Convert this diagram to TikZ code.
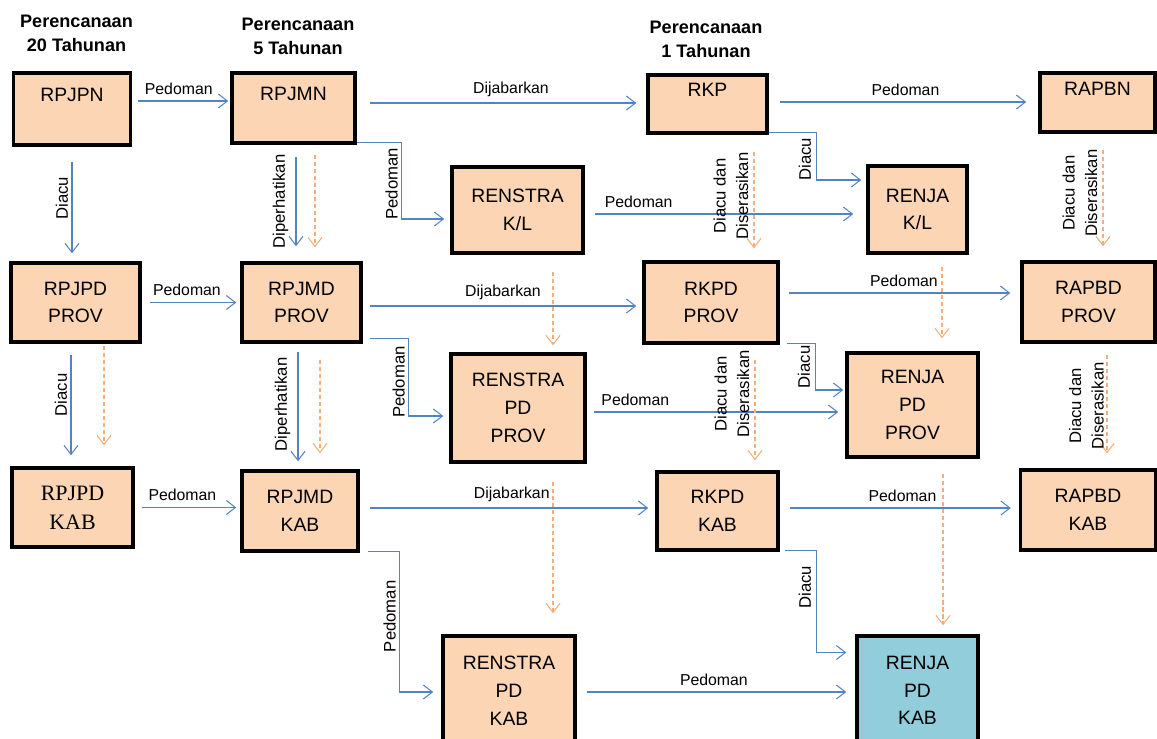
\documentclass[tikz,border=0pt]{standalone}
\usepackage{fontspec}
\setmainfont{Liberation Sans}
\newfontfamily\kabserif{Liberation Serif}
\usetikzlibrary{arrows.meta,calc,positioning}
\definecolor{peach}{RGB}{252,213,180}
\definecolor{skyfill}{RGB}{146,205,220}
\definecolor{linkblue}{RGB}{84,132,192}
\definecolor{syncorange}{RGB}{248,172,120}

\begin{document}
\begin{tikzpicture}[>={Straight Barb[length=1.8mm,width=2.8mm]}]
      \tikzstyle{doc} = [rectangle, draw, line width=2pt, fill=peach, align=center, inner sep=0pt, font=\fontsize{11}{15.8}\selectfont]
      \tikzstyle{head} = [align=center, font=\bfseries\fontsize{10.3}{13.6}\selectfont]
      \tikzstyle{link} = [->, draw=linkblue, line width=0.6pt]
      \tikzstyle{sync} = [->, draw=syncorange, dashed, dash pattern=on 2.4pt off 1.6pt, line width=0.6pt]
      \tikzstyle{lbl} = [text=black, font=\fontsize{9}{12.5}\selectfont, inner sep=2pt, align=center]
      \tikzstyle{vlbl} = [lbl, rotate=90, anchor=south, font=\fontsize{9.5}{12.8}\selectfont]

      \useasboundingbox (0,0) rectangle (23.14,-14.78);

      \node[head] (plan20) at (1.53,-0.67) {Perencanaan\\20 Tahunan};
      \node[head] (plan5) at (5.96,-0.72) {Perencanaan\\5 Tahunan};
      \node[head] (plan1) at (14.12,-0.78) {Perencanaan\\1 Tahunan};

      \node[doc, minimum width=2.34cm, minimum height=1.44cm] (rpjpn) at (1.44,-2.18) {RPJPN\\\mbox{}};
      \node[doc, minimum width=2.46cm, minimum height=1.40cm] (rpjmn) at (5.87,-2.16) {RPJMN\\\mbox{}};
      \node[doc, minimum width=2.38cm, minimum height=1.16cm] (rkp) at (14.15,-2.08) {RKP\\\mbox{}};
      \node[doc, minimum width=2.30cm, minimum height=1.18cm] (rapbn) at (21.95,-2.05) {RAPBN\\\mbox{}};
      \node[doc, minimum width=2.62cm, minimum height=1.72cm] (renstrakl) at (10.35,-4.20) {RENSTRA\\K/L};
      \node[doc, minimum width=1.98cm, minimum height=1.74cm] (renjakl) at (18.35,-4.19) {RENJA\\K/L};
      \node[doc, minimum width=2.58cm, minimum height=1.58cm] (rpjpdprov) at (1.51,-6.05) {RPJPD\\PROV};
      \node[doc, minimum width=2.38cm, minimum height=1.58cm] (rpjmdprov) at (6.03,-6.05) {RPJMD\\PROV};
      \node[doc, minimum width=2.68cm, minimum height=1.62cm] (rkpdprov) at (14.22,-6.05) {RKPD\\PROV};
      \node[doc, minimum width=2.66cm, minimum height=1.60cm] (rapbdprov) at (21.77,-6.04) {RAPBD\\PROV};
      \node[doc, minimum width=2.68cm, minimum height=2.16cm] (renstrapdprov) at (10.36,-8.16) {RENSTRA\\PD\\PROV};
      \node[doc, minimum width=2.62cm, minimum height=2.08cm] (renjapdprov) at (18.25,-8.10) {RENJA\\PD\\PROV};
      \node[doc, minimum width=2.42cm, minimum height=1.58cm, font=\kabserif\fontsize{12.5}{16.4}\selectfont] (rpjpdkab) at (1.45,-10.15) {RPJPD\\KAB};
      \node[doc, minimum width=2.32cm, minimum height=1.60cm] (rpjmdkab) at (6.00,-10.22) {RPJMD\\KAB};
      \node[doc, minimum width=2.42cm, minimum height=1.56cm] (rkpdkab) at (14.35,-10.22) {RKPD\\KAB};
      \node[doc, minimum width=2.70cm, minimum height=1.60cm] (rapbdkab) at (21.76,-10.20) {RAPBD\\KAB};
      \node[doc, minimum width=2.64cm, minimum height=2.18cm] (renstrapdkab) at (10.18,-13.81) {RENSTRA\\PD\\KAB};
      \node[doc, fill=skyfill, minimum width=2.42cm, minimum height=2.18cm] (renjapdkab) at (18.35,-13.81) {RENJA\\PD\\KAB};

      \draw[link] ($(rpjpn.east)+(0.12,0.16)$) -- ($(rpjpn.east -| rpjmn.west)+(-0.04,0.16)$) node[pos=0.45, above=1.5pt, lbl] {Pedoman};
      \draw[link] ($(rpjmn.east)+(0.26,0.10)$) -- ($(rpjmn.east -| rkp.west)+(-0.20,0.10)$) node[pos=0.53, above=1.5pt, lbl] {Dijabarkan};
      \draw[link] ($(rkp.east)+(0.22,0.04)$) -- ($(rkp.east -| rapbn.west)+(-0.24,0.04)$) node[pos=0.51, above=1.5pt, lbl] {Pedoman};
      \draw[link] ($(renstrakl.east)+(0.20,-0.08)$) -- ($(renstrakl.east -| renjakl.west)+(-0.26,-0.08)$) node[pos=0.17, above=1.5pt, lbl] {Pedoman};
      \draw[link] ($(rpjpdprov.east)+(0.16,0)$) -- ($(rpjpdprov.east -| rpjmdprov.west)+(-0.08,0)$) node[pos=0.43, above=1.5pt, lbl] {Pedoman};
      \draw[link] ($(rpjmdprov.east)+(0.14,-0.07)$) -- ($(rpjmdprov.east -| rkpdprov.west)+(-0.12,-0.07)$) node[pos=0.5, above=1.5pt, lbl] {Dijabarkan};
      \draw[link] ($(rkpdprov.east)+(0.18,0.19)$) -- ($(rkpdprov.east -| rapbdprov.west)+(-0.20,0.19)$) node[pos=0.52, above=1.5pt, lbl] {Pedoman};
      \draw[link] ($(renstrapdprov.east)+(0.14,-0.08)$) -- ($(renstrapdprov.east -| renjapdprov.west)+(-0.14,-0.08)$) node[pos=0.17, above=1.5pt, lbl] {Pedoman};
      \draw[link] ($(rpjpdkab.east)+(0.14,0)$) -- ($(rpjpdkab.east -| rpjmdkab.west)+(-0.08,0)$) node[pos=0.43, above=1.5pt, lbl] {Pedoman};
      \draw[link] ($(rpjmdkab.east)+(0.20,0.06)$) -- ($(rpjmdkab.east -| rkpdkab.west)+(-0.14,0.06)$) node[pos=0.51, above=1.5pt, lbl] {Dijabarkan};
      \draw[link] ($(rkpdkab.east)+(0.20,0.06)$) -- ($(rkpdkab.east -| rapbdkab.west)+(-0.16,0.06)$) node[pos=0.51, above=1.5pt, lbl] {Pedoman};
      \draw[link] ($(renstrapdkab.east)+(0.20,-0.03)$) -- ($(renstrapdkab.east -| renjapdkab.west)+(-0.18,-0.03)$) node[pos=0.49, above=1.5pt, lbl] {Pedoman};

      \draw[link] ($(rpjmn.south east)+(0,0.04)$) -- ++(0.9,0) |- ($(renstrakl.west)+(-0.12,-0.18)$) node[pos=0.27, vlbl] {Pedoman};
      \draw[link] ($(rkp.south east)+(0,0.04)$) -- ++(0.96,0) |- ($(renjakl.west)+(-0.10,0.59)$) node[pos=0.28, vlbl, inner sep=3pt] {Diacu};
      \draw[link] ($(rpjmdprov.south east)+(0.14,0.10)$) -- ++(0.78,0) |- ($(renstrapdprov.west)+(-0.12,-0.16)$) node[pos=0.28, vlbl] {Pedoman};
      \draw[link] ($(rkpdprov.south east)+(0.14,0.02)$) -- ++(0.58,0) |- ($(renjapdprov.west)+(-0.04,0.30)$) node[pos=0.25, vlbl, inner sep=3pt] {Diacu};
      \draw[link] ($(rpjmdkab.south east)+(0.16,0.02)$) -- ++(0.64,0) |- ($(renstrapdkab.west)+(-0.16,-0.03)$) node[pos=0.23, vlbl] {Pedoman};
      \draw[link] ($(rkpdkab.south east)+(0.10,0.02)$) -- ++(0.64,0) |- ($(renjapdkab.west)+(-0.18,0.76)$) node[pos=0.18, vlbl, inner sep=3pt] {Diacu};

      \draw[link] ($(rpjpn.south)+(0,-0.30)$) -- ($(rpjpn.south |- rpjpdprov.north)+(0,0.16)$) node[pos=0.4, vlbl] {Diacu};
      \draw[link] ($(rpjmn.south)+(0.05,-0.24)$) -- ($(rpjmn.south |- rpjmdprov.north)+(0.05,0.30)$) node[midway, vlbl, inner sep=4pt] {Diperhatikan};
      \draw[link] ($(rpjpdprov.south)+(-0.09,-0.22)$) -- ($(rpjpdprov.south |- rpjpdkab.north)+(-0.09,0.22)$) node[pos=0.4, vlbl] {Diacu};
      \draw[link] ($(rpjmdprov.south)+(-0.07,-0.16)$) -- ($(rpjmdprov.south |- rpjmdkab.north)+(-0.07,0.16)$) node[pos=0.48, vlbl, inner sep=4pt] {Diperhatikan};

      \draw[sync] ($(rpjmn.south)+(0.43,-0.20)$) -- ($(rpjmn.south |- rpjmdprov.north)+(0.43,0.28)$);
      \draw[sync] ($(rkp.south)+(0.93,-0.34)$) -- ($(rkp.south |- rkpdprov.north)+(0.93,0.24)$) node[pos=0.46, vlbl, inner sep=3pt] {Diacu dan\\Diserasikan};
      \draw[sync] ($(rapbn.south)+(0.11,-0.32)$) -- ($(rapbn.south |- rapbdprov.north)+(0.11,0.28)$) node[pos=0.45, vlbl, inner sep=3pt] {Diacu dan\\Diserasikan};
      \draw[sync] ($(renstrakl.south)+(0.71,-0.34)$) -- ($(renstrakl.south |- renstrapdprov.north)+(0.71,0.14)$);
      \draw[sync] ($(renjakl.south)+(0.49,-0.24)$) -- ($(renjakl.south |- renjapdprov.north)+(0.49,0.26)$);
      \draw[sync] ($(rpjpdprov.south)+(0.57,-0.04)$) -- ($(rpjpdprov.south |- rpjpdkab.north)+(0.57,0.42)$);
      \draw[sync] ($(rpjmdprov.south)+(0.37,-0.32)$) -- ($(rpjmdprov.south |- rpjmdkab.north)+(0.37,0.32)$);
      \draw[sync] ($(rkpdprov.south)+(0.88,-0.30)$) -- ($(rkpdprov.south |- rkpdkab.north)+(0.88,0.20)$) node[pos=0.34, vlbl, inner sep=3pt] {Diacu dan\\Diserasikan};
      \draw[sync] ($(rapbdprov.south)+(0.37,-0.22)$) -- ($(rapbdprov.south |- rapbdkab.north)+(0.37,0.30)$) node[pos=0.52, vlbl, inner sep=1.5pt] {Diacu dan\\Diserasikan};
      \draw[sync] ($(renstrapdprov.south)+(0.70,-0.36)$) -- ($(renstrapdprov.south |- renstrapdkab.north)+(0.70,0.42)$);
      \draw[sync] ($(renjapdprov.south)+(0.61,-0.30)$) -- ($(renjapdprov.south |- renjapdkab.north)+(0.61,0.18)$);
    \end{tikzpicture}
\end{document}
